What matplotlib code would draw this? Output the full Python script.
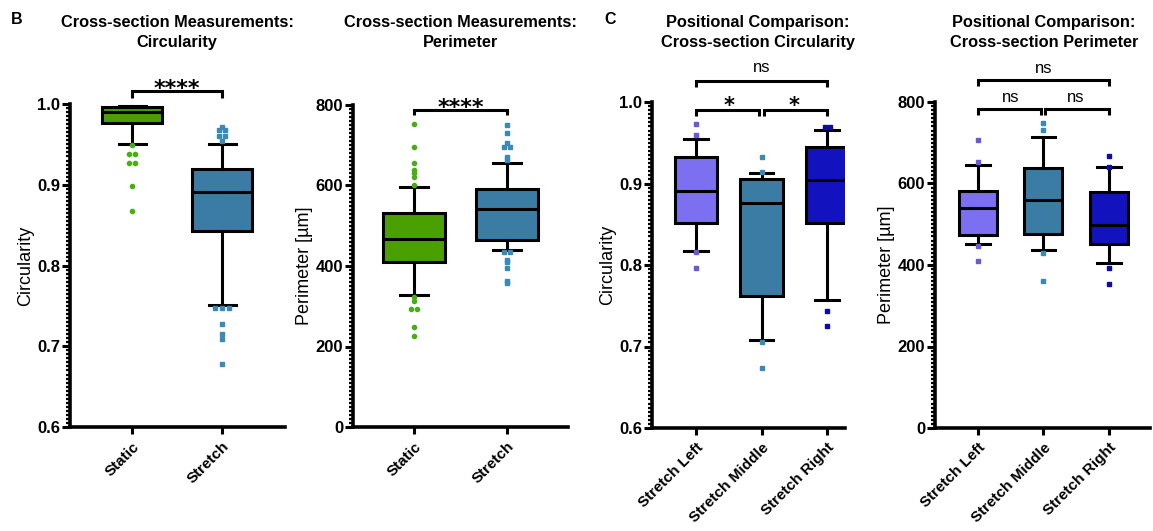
import numpy as np
import matplotlib
matplotlib.use('Agg')
import matplotlib.pyplot as plt
from matplotlib.ticker import AutoMinorLocator, FormatStrFormatter

plt.rcParams['font.family'] = ['Liberation Sans', 'DejaVu Sans']

W, H = 1153, 531

# ---- panel B: static vs stretch ----
groups_b = ['Static', 'Stretch']

# circularity box stats (whisker low, q1, median, q3, whisker high)
circ_b_whislo = [0.950, 0.751]
circ_b_q1 = [0.977, 0.843]
circ_b_med = [0.990, 0.891]
circ_b_q3 = [0.996, 0.920]
circ_b_whishi = [0.998, 0.951]
circ_b_fliers = [
    [0.949, 0.938, 0.938, 0.927, 0.927, 0.899, 0.867],
    [0.972, 0.968, 0.968, 0.960, 0.960, 0.954, 0.747, 0.747, 0.747,
     0.728, 0.715, 0.709, 0.678],
]

# perimeter box stats
perim_b_whislo = [327, 439]
perim_b_q1 = [410, 465]
perim_b_med = [467, 542]
perim_b_q3 = [531, 591]
perim_b_whishi = [597, 655]
perim_b_fliers = [
    [754, 695, 655, 638, 630, 620, 600, 322, 314, 292, 292, 249, 226],
    [750, 731, 706, 695, 695, 670, 663, 436, 436, 415, 411, 394, 363, 357],
]

# ---- panel C: positional comparison ----
groups_c = ['Stretch Left', 'Stretch Middle', 'Stretch Right']

circ_c_whislo = [0.817, 0.708, 0.757]
circ_c_q1 = [0.851, 0.762, 0.851]
circ_c_med = [0.891, 0.876, 0.904]
circ_c_q3 = [0.932, 0.906, 0.945]
circ_c_whishi = [0.955, 0.913, 0.966]
circ_c_fliers = [
    [0.973, 0.959, 0.816, 0.796],
    [0.933, 0.914, 0.705, 0.674],
    [0.969, 0.969, 0.743, 0.725],
]

perim_c_whislo = [451, 438, 405]
perim_c_q1 = [473, 477, 451]
perim_c_med = [541, 559, 499]
perim_c_q3 = [582, 639, 578]
perim_c_whishi = [645, 714, 641]
perim_c_fliers = [
    [706, 653, 447, 410],
    [748, 731, 430, 361],
    [667, 641, 393, 354],
]

# significance: (group i, group j, label)
sig_b = [(1, 2, '****')]
sig_c = [(1, 2, '*'), (2, 3, '*'), (1, 3, 'ns')]
sig_c_perim = [(1, 2, 'ns'), (2, 3, 'ns'), (1, 3, 'ns')]

col_b = ['#4aa000', '#3b7ca4']
flier_col_b = ['#46b010', '#3a8ab8']
marker_b = ['o', 's']
col_c = ['#7c6ff0', '#3b7ca4', '#1212bf']
flier_col_c = ['#6a5ad8', '#3a8ab8', '#0c0ca8']

LW = 2.2


def rect(l, r, t, b):
    return [l / W, 1 - b / H, (r - l) / W, (b - t) / H]


def draw_boxes(ax, whislo, q1, med, q3, whishi, fliers, colors, fcolors,
               markers, width, capw):
    for i in range(len(med)):
        st = dict(whislo=whislo[i], q1=q1[i], med=med[i], q3=q3[i],
                  whishi=whishi[i], fliers=[])
        ax.bxp([st], positions=[i + 1], widths=width, patch_artist=True,
               showfliers=False, capwidths=[capw],
               boxprops=dict(facecolor=colors[i], edgecolor='black', linewidth=LW),
               whiskerprops=dict(color='black', linewidth=LW),
               capprops=dict(color='black', linewidth=LW),
               medianprops=dict(color='black', linewidth=LW))
        # spread repeated values side by side
        vals = np.array(fliers[i], dtype=float)
        xs = np.full(len(vals), i + 1.0)
        for v in np.unique(vals):
            idx = np.where(vals == v)[0]
            if len(idx) > 1:
                xs[idx] = i + 1 + (np.arange(len(idx)) - (len(idx) - 1) / 2) * 0.075
        ax.plot(xs, vals, linestyle='none', marker=markers[i], ms=3.0,
                mfc=fcolors[i], mec=fcolors[i], zorder=3, clip_on=False)


def style(ax, ylim, yticks, fmt, labels, ylabel, xlim):
    ax.set_xlim(*xlim)
    ax.set_ylim(*ylim)
    ax.set_yticks(yticks)
    ax.yaxis.set_major_formatter(FormatStrFormatter(fmt))
    ax.yaxis.set_minor_locator(AutoMinorLocator(20))
    ax.set_xticks(range(1, len(labels) + 1))
    ax.set_xticklabels(labels, rotation=45, ha='right', va='top',
                       rotation_mode='anchor', fontsize=11, fontweight='bold')
    for lab in ax.get_yticklabels():
        lab.set_fontweight('bold')
        lab.set_fontsize(12)
    ax.spines['top'].set_visible(False)
    ax.spines['right'].set_visible(False)
    ax.spines['left'].set_linewidth(2.6)
    ax.spines['bottom'].set_linewidth(2.6)
    ax.tick_params(axis='y', which='major', length=6, width=2.2, pad=1)
    ax.tick_params(axis='y', which='minor', length=3, width=1.6)
    ax.tick_params(axis='x', which='major', length=5, width=2.2, pad=4)
    ax.set_ylabel(ylabel, fontsize=13, labelpad=2)


def brackets(ax, sigs, ylevels, tip, star_off, ns_off, star_fs):
    for (a, b, lab), y in zip(sigs, ylevels):
        x1, x2 = a, b
        if b - a == 1 and len(sigs) > 1:
            if a == 2:
                x1 = a + 0.03
            if b == 2:
                x2 = b - 0.04
        ax.plot([x1, x1, x2, x2], [y - tip, y, y, y - tip], color='black',
                lw=2.2, clip_on=False, solid_capstyle='butt', solid_joinstyle='miter')
        if '*' in lab:
            ax.annotate(lab, xy=((a + b) / 2, y), xytext=(0, star_off),
                        textcoords='offset points', ha='center', va='baseline',
                        fontsize=star_fs, fontweight='bold', family='DejaVu Sans',
                        annotation_clip=False)
        else:
            ax.annotate(lab, xy=((a + b) / 2, y), xytext=(0, ns_off),
                        textcoords='offset points', ha='center', va='baseline',
                        fontsize=12, annotation_clip=False)


fig = plt.figure(figsize=(W / 100, H / 100), dpi=100)

ax1 = fig.add_axes(rect(70, 285, 104, 427))
ax1.set_ylim(0.6, 1.0)
draw_boxes(ax1, circ_b_whislo, circ_b_q1, circ_b_med, circ_b_q3, circ_b_whishi,
           circ_b_fliers, col_b, flier_col_b, marker_b, 0.67, 0.3)
style(ax1, (0.6, 1.0), [0.6, 0.7, 0.8, 0.9, 1.0], '%.1f', groups_b,
      'Circularity', (0.31, 2.70))
brackets(ax1, sig_b, [1.0165], 0.009, -3, 5, 16)

ax2 = fig.add_axes(rect(353, 568, 105, 427))
ax2.set_ylim(0, 800)
draw_boxes(ax2, perim_b_whislo, perim_b_q1, perim_b_med, perim_b_q3, perim_b_whishi,
           perim_b_fliers, col_b, flier_col_b, marker_b, 0.66, 0.3)
style(ax2, (0, 800), [0, 200, 400, 600, 800], '%d', groups_b,
      'Perimeter [µm]', (0.344, 2.656))
brackets(ax2, sig_b, [787], 12, -3, 5, 16)

ax3 = fig.add_axes(rect(652, 845, 102, 428))
ax3.set_ylim(0.6, 1.0)
draw_boxes(ax3, circ_c_whislo, circ_c_q1, circ_c_med, circ_c_q3, circ_c_whishi,
           circ_c_fliers, col_c, flier_col_c, ['s'] * 3, 0.65, 0.36)
style(ax3, (0.6, 1.0), [0.6, 0.7, 0.8, 0.9, 1.0], '%.1f', groups_c,
      'Circularity', (0.328, 3.27))
brackets(ax3, sig_c, [0.990, 0.990, 1.0254], 0.0075, -1, 6.5, 15)

ax4 = fig.add_axes(rect(935, 1150, 102, 428))
ax4.set_ylim(0, 800)
draw_boxes(ax4, perim_c_whislo, perim_c_q1, perim_c_med, perim_c_q3, perim_c_whishi,
           perim_c_fliers, col_c, flier_col_c, ['s'] * 3, 0.585, 0.36)
style(ax4, (0, 800), [0, 200, 400, 600, 800], '%d', groups_c,
      'Perimeter [µm]', (0.344, 3.63))
brackets(ax4, sig_c_perim, [782, 782, 853], 13, -1, 5.5, 15)

titles = [
    (177, 'Cross-section Measurements:\nCircularity'),
    (460, 'Cross-section Measurements:\nPerimeter'),
    (758, 'Positional Comparison:\nCross-section Circularity'),
    (1044, 'Positional Comparison:\nCross-section Perimeter'),
]
for x, t in titles:
    fig.text(x / W, 1 - 15 / H, t, ha='center', va='top', fontsize=11.8,
             fontweight='bold', linespacing=1.4)

fig.text(11 / W, 1 - 12 / H, 'B', ha='left', va='top', fontsize=11.5, fontweight='bold')
fig.text(604 / W, 1 - 12 / H, 'C', ha='left', va='top', fontsize=11.5, fontweight='bold')

fig.savefig('out.png', dpi=100)
